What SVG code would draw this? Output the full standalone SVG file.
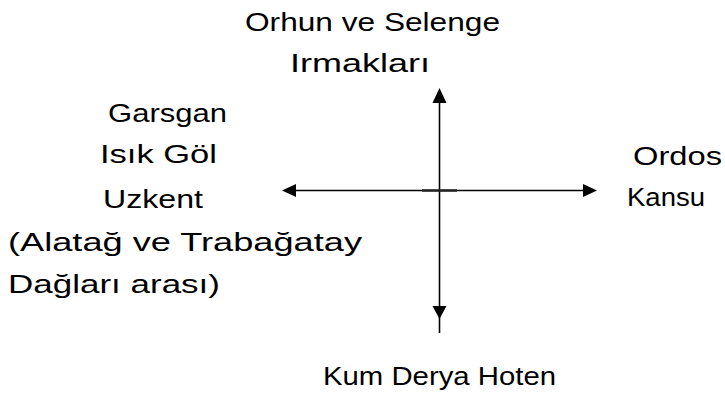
<svg xmlns="http://www.w3.org/2000/svg" width="725" height="396" viewBox="0 0 725 396">
<style>
text{font-family:"Liberation Sans","DejaVu Sans",sans-serif;font-size:26px;fill:#000}
.ln{stroke:#000;stroke-width:1.6;fill:none}
.ah{fill:#000}
</style>
<rect width="725" height="396" fill="#fff"/>
<g id="connectors">
<line class="ln" x1="439.5" y1="96" x2="439.5" y2="333"/>
<line class="ln" x1="290" y1="190.5" x2="590" y2="190.5"/>
<line x1="422" y1="190.5" x2="457" y2="190.5" stroke="#222" stroke-width="2.4"/>
<polygon class="ah" points="439.5,88 432.5,103 446.5,103"/>
<polygon class="ah" points="439.5,319 432.5,306 446.5,306"/>
<polygon class="ah" points="282,190.5 296,184 296,197"/>
<polygon class="ah" points="597,190.5 583,184 583,197"/>
</g>
<g id="north">
<text x="245" y="31" textLength="255" lengthAdjust="spacingAndGlyphs">Orhun ve Selenge</text>
<text x="290" y="72" textLength="140" lengthAdjust="spacingAndGlyphs">Irmakları</text>
</g>
<g id="west">
<text x="108" y="122" textLength="119" lengthAdjust="spacingAndGlyphs">Garsgan</text>
<text x="100" y="163" textLength="117" lengthAdjust="spacingAndGlyphs">Isık Göl</text>
<text x="103" y="208" textLength="100" lengthAdjust="spacingAndGlyphs">Uzkent</text>
<text x="8" y="251" textLength="354" lengthAdjust="spacingAndGlyphs">(Alatağ ve Trabağatay</text>
<text x="8" y="293" textLength="212" lengthAdjust="spacingAndGlyphs">Dağları arası)</text>
</g>
<g id="east">
<text x="633" y="165" textLength="89" lengthAdjust="spacingAndGlyphs">Ordos</text>
<text x="627" y="206" textLength="78" lengthAdjust="spacingAndGlyphs">Kansu</text>
</g>
<g id="south">
<text x="323" y="385" textLength="233" lengthAdjust="spacingAndGlyphs">Kum Derya Hoten</text>
</g>
</svg>
